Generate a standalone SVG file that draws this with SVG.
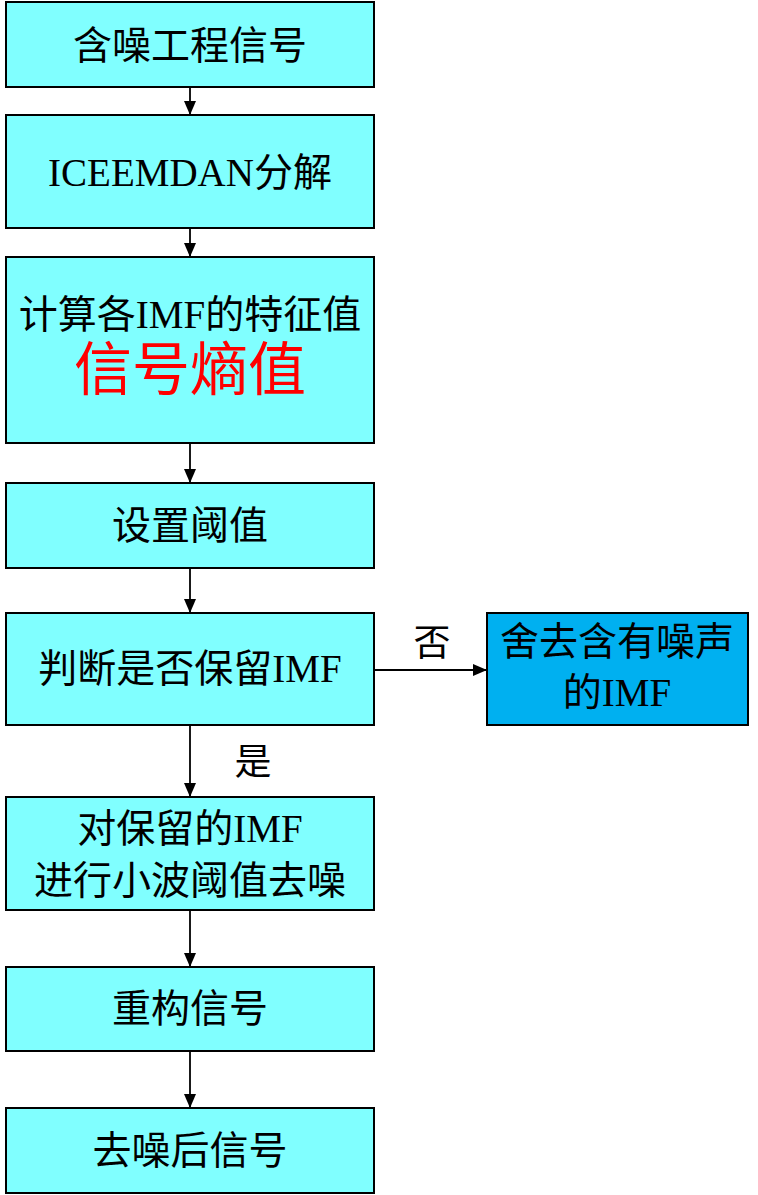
<svg xmlns="http://www.w3.org/2000/svg" width="758" height="1195" viewBox="0 0 758 1195">
<style>
.box{fill:#80FFFF;stroke:#000;stroke-width:2}
.blue{fill:#00B0F0;stroke:#000;stroke-width:2}
text{font-family:"Liberation Serif","Noto Sans CJK SC",serif;font-size:39px;fill:#000;text-anchor:middle;dominant-baseline:central}
.red{fill:#FF0000;font-size:58px}
.conn{stroke:#000;stroke-width:1.8;fill:none;marker-end:url(#arr)}
</style>
<defs>
<marker id="arr" viewBox="0 0 14 12" refX="14" refY="6" markerWidth="14" markerHeight="12" markerUnits="userSpaceOnUse" orient="auto">
<path d="M0,0 L14,6 L0,12 z" fill="#000"/>
</marker>
</defs>
<rect width="758" height="1195" fill="#fff"/>
<g id="connectors">
<line class="conn" x1="190" y1="87" x2="190" y2="115"/>
<line class="conn" x1="190" y1="228" x2="190" y2="257"/>
<line class="conn" x1="190" y1="443" x2="190" y2="483"/>
<line class="conn" x1="190" y1="568" x2="190" y2="613"/>
<line class="conn" x1="374" y1="670" x2="487" y2="670"/>
<line class="conn" x1="190" y1="725" x2="190" y2="797"/>
<line class="conn" x1="190" y1="910" x2="190" y2="967"/>
<line class="conn" x1="190" y1="1051" x2="190" y2="1108"/>
<text x="432" y="643" style="font-size:37px">否</text>
<text x="253" y="762" style="font-size:37px">是</text>
</g>
<g id="n1"><rect class="box" x="6" y="2" width="368" height="85"/><text x="190" y="45">含噪工程信号</text></g>
<g id="n2"><rect class="box" x="6" y="115" width="368" height="113"/><text x="190" y="172">ICEEMDAN分解</text></g>
<g id="n3"><rect class="box" x="6" y="257" width="368" height="186"/><text x="190" y="314">计算各IMF的特征值</text><text class="red" x="190" y="370">信号熵值</text></g>
<g id="n4"><rect class="box" x="6" y="483" width="368" height="85"/><text x="190" y="525">设置阈值</text></g>
<g id="n5"><rect class="box" x="6" y="613" width="368" height="112"/><text x="190" y="668">判断是否保留IMF</text></g>
<g id="n6"><rect class="blue" x="487" y="613" width="261" height="112"/><text x="617" y="641">舍去含有噪声</text><text x="617" y="692">的IMF</text></g>
<g id="n7"><rect class="box" x="6" y="797" width="368" height="113"/><text x="190" y="828">对保留的IMF</text><text x="190" y="880">进行小波阈值去噪</text></g>
<g id="n8"><rect class="box" x="6" y="967" width="368" height="84"/><text x="190" y="1008">重构信号</text></g>
<g id="n9"><rect class="box" x="6" y="1108" width="368" height="85"/><text x="190" y="1150">去噪后信号</text></g>
</svg>
